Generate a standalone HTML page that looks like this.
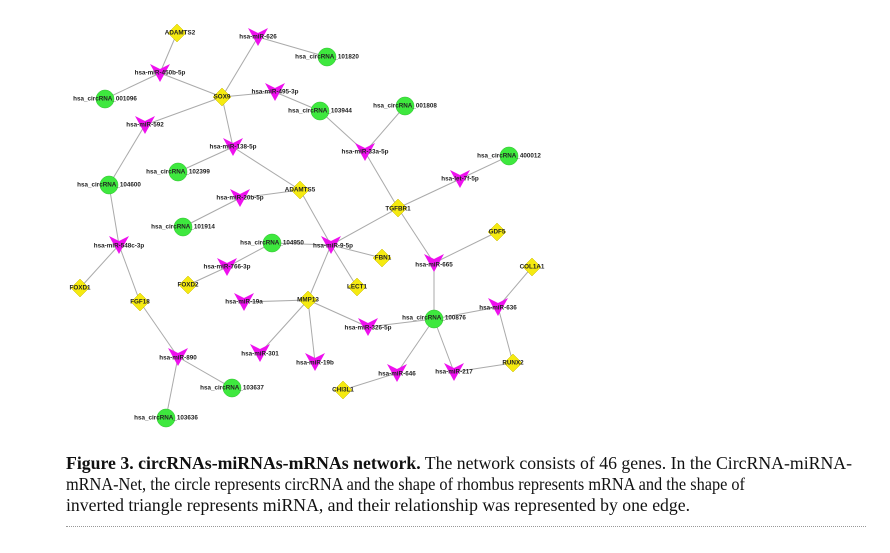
<!DOCTYPE html>
<html><head><meta charset="utf-8"><style>
html,body{margin:0;padding:0;background:#fff;}
body{width:890px;height:553px;overflow:hidden;position:relative;}
svg text.l{font-family:"Liberation Sans",sans-serif;font-size:6.3px;font-weight:bold;fill:#222;text-anchor:middle;dominant-baseline:central;}
svg text.c{font-family:"Liberation Serif",serif;font-size:18px;fill:#111;}
.dots{position:absolute;left:66px;top:526px;width:800px;border-top:1px dotted #999;}
</style></head><body>
<svg width="890" height="553" style="position:absolute;left:0;top:0" xmlns="http://www.w3.org/2000/svg">
<defs>
<polygon id="tri" points="-10,-9 0,-4 10,-9 0,9" fill="#ee10ee"/>
<polygon id="dia" points="0,-9 9,0 0,9 -9,0" fill="#f5ea10" stroke="#c8b800" stroke-width="0.5"/>
</defs>
<g stroke="#aaa" stroke-width="1" fill="none">
<line x1="177" y1="33" x2="160" y2="73"/>
<line x1="160" y1="73" x2="105" y2="99"/>
<line x1="160" y1="73" x2="222" y2="97"/>
<line x1="258" y1="37" x2="222" y2="97"/>
<line x1="258" y1="37" x2="327" y2="57"/>
<line x1="222" y1="97" x2="275" y2="92"/>
<line x1="275" y1="92" x2="320" y2="111"/>
<line x1="222" y1="97" x2="145" y2="125"/>
<line x1="145" y1="125" x2="109" y2="185"/>
<line x1="222" y1="97" x2="233" y2="147"/>
<line x1="233" y1="147" x2="178" y2="172"/>
<line x1="233" y1="147" x2="300" y2="190"/>
<line x1="300" y1="190" x2="240" y2="198"/>
<line x1="240" y1="198" x2="183" y2="227"/>
<line x1="300" y1="190" x2="331" y2="245"/>
<line x1="109" y1="185" x2="119" y2="245"/>
<line x1="119" y1="245" x2="80" y2="288"/>
<line x1="119" y1="245" x2="140" y2="302"/>
<line x1="140" y1="302" x2="178" y2="357"/>
<line x1="178" y1="357" x2="232" y2="388"/>
<line x1="178" y1="357" x2="166" y2="418"/>
<line x1="320" y1="111" x2="365" y2="152"/>
<line x1="405" y1="106" x2="365" y2="152"/>
<line x1="365" y1="152" x2="398" y2="208"/>
<line x1="509" y1="156" x2="460" y2="179"/>
<line x1="460" y1="179" x2="398" y2="208"/>
<line x1="398" y1="208" x2="331" y2="245"/>
<line x1="398" y1="208" x2="434" y2="263"/>
<line x1="434" y1="263" x2="497" y2="232"/>
<line x1="434" y1="263" x2="434" y2="319"/>
<line x1="272" y1="243" x2="331" y2="245"/>
<line x1="272" y1="243" x2="227" y2="267"/>
<line x1="227" y1="267" x2="188" y2="285"/>
<line x1="331" y1="245" x2="382" y2="258"/>
<line x1="331" y1="245" x2="357" y2="287"/>
<line x1="331" y1="245" x2="308" y2="300"/>
<line x1="308" y1="300" x2="244" y2="302"/>
<line x1="308" y1="300" x2="260" y2="353"/>
<line x1="308" y1="300" x2="315" y2="362"/>
<line x1="308" y1="300" x2="368" y2="327"/>
<line x1="368" y1="327" x2="434" y2="319"/>
<line x1="434" y1="319" x2="498" y2="307"/>
<line x1="498" y1="307" x2="532" y2="267"/>
<line x1="498" y1="307" x2="513" y2="363"/>
<line x1="434" y1="319" x2="397" y2="373"/>
<line x1="397" y1="373" x2="343" y2="390"/>
<line x1="434" y1="319" x2="454" y2="372"/>
<line x1="454" y1="372" x2="513" y2="363"/>
</g>
<g fill="#3ee83e" stroke="#2cc02c" stroke-width="0.5">
<circle cx="327" cy="57" r="9"/><circle cx="105" cy="99" r="9"/><circle cx="320" cy="111" r="9"/>
<circle cx="178" cy="172" r="9"/><circle cx="109" cy="185" r="9"/><circle cx="405" cy="106" r="9"/>
<circle cx="509" cy="156" r="9"/><circle cx="183" cy="227" r="9"/><circle cx="272" cy="243" r="9"/>
<circle cx="232" cy="388" r="9"/><circle cx="166" cy="418" r="9"/><circle cx="434" cy="319" r="9"/>
</g>
<use href="#dia" x="177" y="33"/><use href="#dia" x="222" y="97"/><use href="#dia" x="300" y="190"/>
<use href="#dia" x="398" y="208"/><use href="#dia" x="497" y="232"/><use href="#dia" x="382" y="258"/>
<use href="#dia" x="532" y="267"/><use href="#dia" x="80" y="288"/><use href="#dia" x="188" y="285"/>
<use href="#dia" x="140" y="302"/><use href="#dia" x="308" y="300"/><use href="#dia" x="357" y="287"/>
<use href="#dia" x="343" y="390"/><use href="#dia" x="513" y="363"/>
<use href="#tri" x="258" y="37"/><use href="#tri" x="160" y="73"/><use href="#tri" x="275" y="92"/>
<use href="#tri" x="145" y="125"/><use href="#tri" x="233" y="147"/><use href="#tri" x="240" y="198"/>
<use href="#tri" x="365" y="152"/><use href="#tri" x="460" y="179"/><use href="#tri" x="331" y="245"/>
<use href="#tri" x="434" y="263"/><use href="#tri" x="119" y="245"/><use href="#tri" x="227" y="267"/>
<use href="#tri" x="244" y="302"/><use href="#tri" x="178" y="357"/><use href="#tri" x="260" y="353"/>
<use href="#tri" x="315" y="362"/><use href="#tri" x="368" y="327"/><use href="#tri" x="498" y="307"/>
<use href="#tri" x="397" y="373"/><use href="#tri" x="454" y="372"/>
<g>
<text class="l" x="180" y="33">ADAMTS2</text>
<text class="l" x="258" y="37">hsa-miR-626</text>
<text class="l" x="327" y="57">hsa_circRNA_101820</text>
<text class="l" x="160" y="73">hsa-miR-450b-5p</text>
<text class="l" x="105" y="99">hsa_circRNA_001096</text>
<text class="l" x="222" y="97">SOX9</text>
<text class="l" x="275" y="92">hsa-miR-495-3p</text>
<text class="l" x="320" y="111">hsa_circRNA_103944</text>
<text class="l" x="145" y="125">hsa-miR-592</text>
<text class="l" x="233" y="147">hsa-miR-138-5p</text>
<text class="l" x="178" y="172">hsa_circRNA_102399</text>
<text class="l" x="109" y="185">hsa_circRNA_104600</text>
<text class="l" x="300" y="190">ADAMTS5</text>
<text class="l" x="240" y="198">hsa-miR-20b-5p</text>
<text class="l" x="405" y="106">hsa_circRNA_001808</text>
<text class="l" x="365" y="152">hsa-miR-33a-5p</text>
<text class="l" x="509" y="156">hsa_circRNA_400012</text>
<text class="l" x="460" y="179">hsa-let-7f-5p</text>
<text class="l" x="398" y="209">TGFBR1</text>
<text class="l" x="497" y="232">GDF5</text>
<text class="l" x="333" y="246">hsa-miR-9-5p</text>
<text class="l" x="383" y="258">FBN1</text>
<text class="l" x="434" y="265">hsa-miR-665</text>
<text class="l" x="532" y="267">COL1A1</text>
<text class="l" x="183" y="227">hsa_circRNA_101914</text>
<text class="l" x="119" y="246">hsa-miR-548c-3p</text>
<text class="l" x="272" y="243">hsa_circRNA_104950</text>
<text class="l" x="227" y="267">hsa-miR-766-3p</text>
<text class="l" x="80" y="288">FOXD1</text>
<text class="l" x="188" y="285">FOXD2</text>
<text class="l" x="140" y="302">FGF18</text>
<text class="l" x="244" y="302">hsa-miR-19a</text>
<text class="l" x="308" y="300">MMP13</text>
<text class="l" x="178" y="358">hsa-miR-890</text>
<text class="l" x="260" y="354">hsa-miR-301</text>
<text class="l" x="315" y="363">hsa-miR-19b</text>
<text class="l" x="232" y="388">hsa_circRNA_103637</text>
<text class="l" x="343" y="390">CHI3L1</text>
<text class="l" x="166" y="418">hsa_circRNA_103636</text>
<text class="l" x="357" y="287">LECT1</text>
<text class="l" x="498" y="308">hsa-miR-636</text>
<text class="l" x="434" y="318">hsa_circRNA_100876</text>
<text class="l" x="368" y="328">hsa-miR-326-5p</text>
<text class="l" x="397" y="374">hsa-miR-646</text>
<text class="l" x="454" y="372">hsa-miR-217</text>
<text class="l" x="513" y="363">RUNX2</text>
</g>
<text class="c" x="66" y="469" textLength="786" lengthAdjust="spacingAndGlyphs"><tspan font-weight="bold">Figure 3.  circRNAs-miRNAs-mRNAs network.</tspan> The network consists of 46 genes. In the CircRNA-miRNA-</text>
<text class="c" x="66" y="490" textLength="679" lengthAdjust="spacingAndGlyphs">mRNA-Net, the circle represents circRNA and the shape of rhombus represents mRNA and the shape of</text>
<text class="c" x="66" y="511" textLength="624" lengthAdjust="spacingAndGlyphs">inverted triangle represents miRNA, and their relationship was represented by one edge.</text>
</svg>
<div class="dots"></div>
</body></html>
